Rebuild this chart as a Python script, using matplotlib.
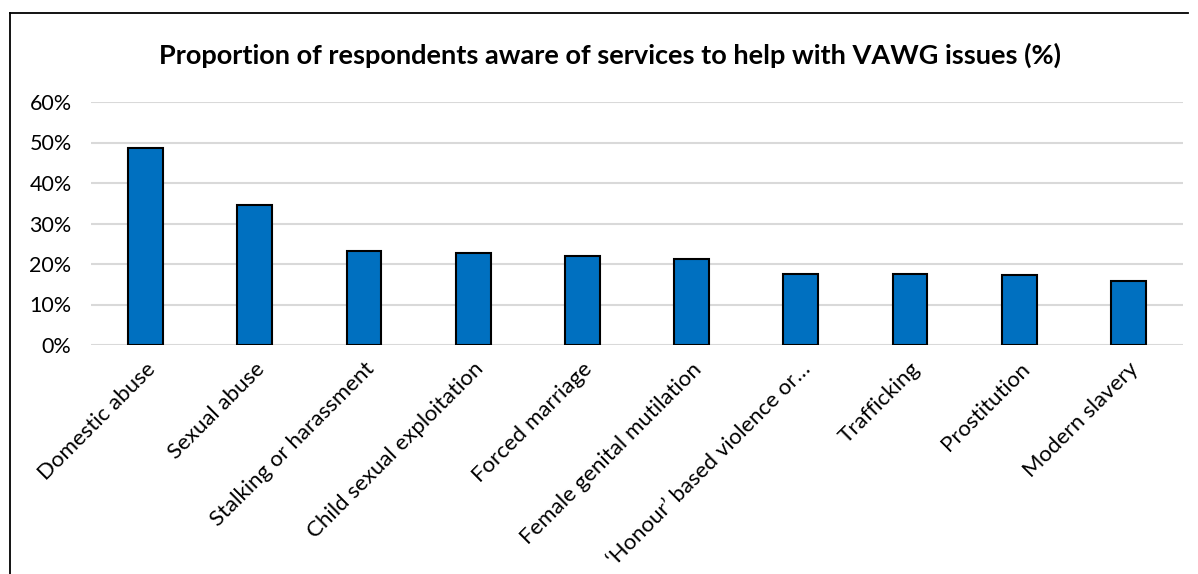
import matplotlib
matplotlib.use("Agg")
import matplotlib.pyplot as plt
from matplotlib.ticker import FuncFormatter
from matplotlib.lines import Line2D

categories = ["Domestic abuse", "Sexual abuse", "Stalking or harassment",
              "Child sexual exploitation", "Forced marriage",
              "Female genital mutilation", "\u2018Honour\u2019 based violence or\u2026",
              "Trafficking", "Prostitution", "Modern slavery"]
values = [48.6, 34.5, 23.3, 22.8, 22.0, 21.2, 17.5, 17.5, 17.2, 15.9]
yticks = [0, 10, 20, 30, 40, 50, 60]
title = "Proportion of respondents aware of services to help with VAWG issues (%)"

plt.rcParams['font.family'] = ['Lato', 'DejaVu Sans']

W, H = 1198, 574
fig = plt.figure(figsize=(W / 100, H / 100), dpi=100)
ax = fig.add_axes([91 / W, (H - 345) / H, (1183 - 91) / W, (345 - 102) / H])

x = list(range(len(categories)))
ax.bar(x, values, width=0.32, color="#0070C0", edgecolor="black", linewidth=1.5, zorder=3)

ax.set_xlim(-0.5, len(categories) - 0.5)
ax.set_ylim(0, 60)
ax.set_yticks(yticks)
ax.yaxis.set_major_formatter(FuncFormatter(lambda v, p: f"{int(v)}%"))
ax.grid(axis="y", color="#D9D9D9", linewidth=1.5, zorder=0)
for s in ax.spines.values():
    s.set_visible(False)
ax.tick_params(axis="y", length=0, labelsize=15.5, colors="black", pad=14)
ax.set_xticks(x)
ax.set_xticklabels(categories, rotation=45, ha="right", rotation_mode="anchor")
ax.tick_params(axis="x", length=0, labelsize=16, colors="black", pad=10)

fig.text(610 / W, 1 - 55 / H, title, ha="center", va="center",
         fontsize=19.5, fontweight="bold")

fig.add_artist(Line2D([10 / W, 10 / W], [0, 1 - 13 / H], color="black", linewidth=1.3,
                      transform=fig.transFigure))
fig.add_artist(Line2D([10 / W, 1188 / W], [1 - 13 / H, 1 - 13 / H], color="black",
                      linewidth=1.3, transform=fig.transFigure))

fig.savefig("out.png", dpi=100)
